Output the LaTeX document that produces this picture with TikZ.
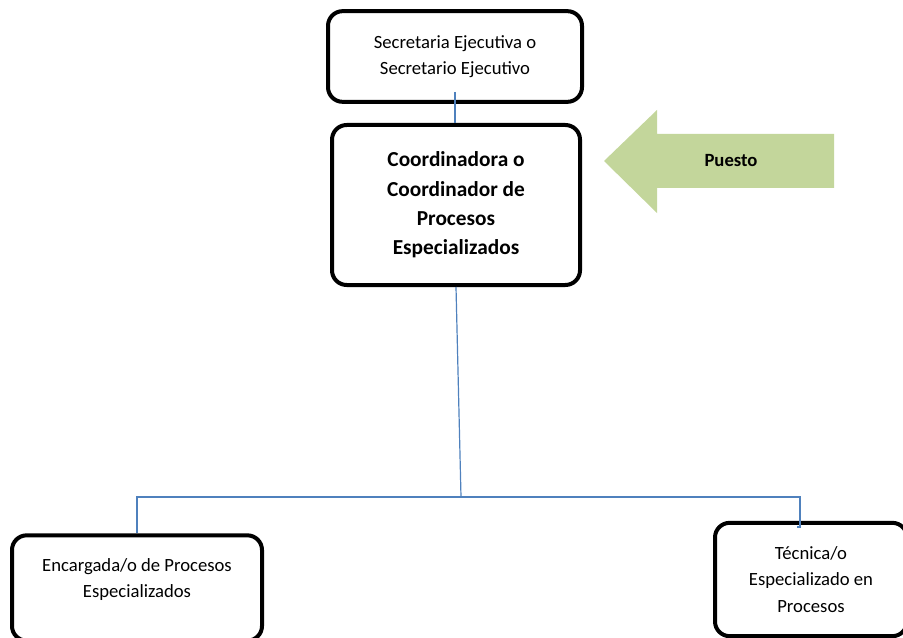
\documentclass[tikz,border=0pt]{standalone}
\usepackage{fontspec}
\setmainfont{Carlito}
\usetikzlibrary{positioning}

\definecolor{linkblue}{RGB}{79,129,189}
\definecolor{arrowgreen}{RGB}{195,214,155}

\tikzset{
  puestobox/.style={draw, line width=3pt, rounded corners=11pt, align=center, inner sep=0pt},
  link/.style={draw=linkblue, line width=0.9pt}
}

\begin{document}
\begin{tikzpicture}[x=0.75pt,y=0.75pt,yscale=-1,xscale=1]
\useasboundingbox (0,0) rectangle (903,638);

%Shape: Rounded Rect [id:sec]
\node (sec) [puestobox, minimum width=190.5pt, minimum height=68pt, font=\fontsize{14}{19.5}\selectfont] at (455,56.5) {Secretaria Ejecutiva o\\Secretario Ejecutivo};
%Shape: Rounded Rect [id:coord]
\node (coord) [puestobox, minimum width=186pt, minimum height=120pt, font=\bfseries\fontsize{16}{22}\selectfont] at (456,205) {Coordinadora o\\Coordinador de\\Procesos\\Especializados};
%Shape: Rounded Rect [id:enc]
\node (enc) [puestobox, minimum width=187.5pt, minimum height=79pt, font=\fontsize{14}{19.5}\selectfont, text depth=15pt] at (137,588) {Encargada/o de Procesos\\Especializados};
%Shape: Rounded Rect [id:tec]
\node (tec) [puestobox, minimum width=144pt, minimum height=85pt, font=\fontsize{14}{20}\selectfont] at (811,579.5) {T\'ecnica/o\\Especializado en\\Procesos};

%Shape: Left Arrow [id:puesto]
\fill [arrowgreen] (604,161) -- (657,110) -- (657,134) -- (834,134) -- (834,188) -- (657,188) -- (657,213) -- cycle;
% Text Node
\node (puesto) [font=\bfseries\fontsize{14}{16}\selectfont] at (731,161) {Puesto};

%Straight Lines
\coordinate (secfoot) at (455,92);
\coordinate (junction) at (461,497);
\coordinate (tecfoot) at (800,527);
\draw [link] (secfoot) -- (coord.north -| secfoot);
\draw [link] (coord.south) -- (junction);
\draw [link] (junction) -| (enc.north);
\draw [link] (junction) -| (tecfoot) -- ++(-3,0);

\end{tikzpicture}
\end{document}
